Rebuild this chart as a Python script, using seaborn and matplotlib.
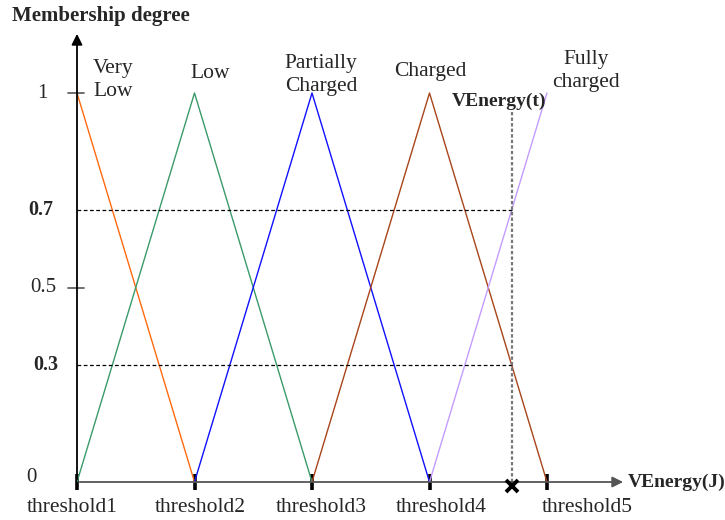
import matplotlib
matplotlib.use("Agg")
import matplotlib.pyplot as plt
import seaborn as sns
import pandas as pd

# ---- data ----
threshold_labels = ["threshold1", "threshold2", "threshold3", "threshold4", "threshold5"]
threshold_pos = [0, 1, 2, 3, 4]
set_names = ["Very\nLow", "Low", "Partially\nCharged", "Charged", "Fully\ncharged"]
very_low_x = [0, 1];      very_low_y = [1, 0]
low_x = [0, 1, 2];        low_y = [0, 1, 0]
partial_x = [1, 2, 3];    partial_y = [0, 1, 0]
charged_x = [2, 3, 4];    charged_y = [0, 1, 0]
fully_x = [3, 4];         fully_y = [0, 1]
venergy_t = 3.7
levels = [0.3, 0.7]
ytick_vals = [1, 0.7, 0.5, 0.3, 0]
ytick_text = ["1", "0.7", "0.5", "0.3", "0"]
ytick_bold = [False, True, False, True, False]

colors = ["#ff6a10", "#3a9a6a", "#1010ff", "#a8451a", "#c49cff"]

rows = []
for name, xs, ys in zip(set_names,
                        [very_low_x, low_x, partial_x, charged_x, fully_x],
                        [very_low_y, low_y, partial_y, charged_y, fully_y]):
    for x, y in zip(xs, ys):
        rows.append({"set": name, "x": x, "y": y})
df = pd.DataFrame(rows)

sns.set_style("white")
plt.rcParams["font.family"] = ["Liberation Serif", "DejaVu Serif"]

W, H = 725, 520
fig = plt.figure(figsize=(W / 100, H / 100), dpi=100)
x0, x1, ytop, ybot = 77, 620, 35, 482
ax = fig.add_axes([x0 / W, (H - ybot) / H, (x1 - x0) / W, (ybot - ytop) / H])
pxu_x, pxu_y = 117.5, 389.0
ax.set_xlim(0, (x1 - x0) / pxu_x)
ax.set_ylim(0, (ybot - ytop) / pxu_y)
for s in ax.spines.values():
    s.set_visible(False)

sns.lineplot(data=df, x="x", y="y", hue="set", palette=colors, ax=ax,
             legend=False, linewidth=1.0, estimator=None, sort=False)

# reference lines
for lv in levels:
    ax.plot([0, venergy_t], [lv, lv], color="black", linestyle=(0, (3, 2)), linewidth=0.9)
ax.plot([venergy_t, venergy_t], [0, 0.95], color="#777777", linestyle=(0, (1.5, 1)), linewidth=1.6)
ax.plot([venergy_t], [-0.01], marker="x", color="black", markersize=9, mew=2.8, clip_on=False, zorder=5)

# axes arrows
ax.annotate("", xy=(ax.get_xlim()[1] + 0.05, 0), xytext=(0, 0),
            arrowprops=dict(arrowstyle="-|>", color="#555555", lw=1.3, mutation_scale=16),
            annotation_clip=False)
ax.annotate("", xy=(0, ax.get_ylim()[1] + 0.01), xytext=(0, 0),
            arrowprops=dict(arrowstyle="-|>", color="black", lw=1.3, mutation_scale=16),
            annotation_clip=False)

# x ticks (marks only); labels placed below
ax.set_xticks(threshold_pos)
ax.set_xticklabels([])
ax.tick_params(axis="x", direction="inout", length=12, width=2.6, color="black", bottom=True)
ax.set_yticks([])
ax.set_xlabel("")
ax.set_ylabel("")
label_offsets_px = [-5, 6, 9, 12, 40]
for pos, lab, off in zip(threshold_pos, threshold_labels, label_offsets_px):
    px = x0 + pos * pxu_x + off
    fig.text(px / W, 1 - 507 / H, lab, ha="center", va="center", fontsize=15.5)

# y labels
ylab_x = [42, 41, 43, 46, 31]
for v, t, b, lx in zip(ytick_vals, ytick_text, ytick_bold, ylab_x):
    py = ybot - v * pxu_y
    if v == 0:
        py = 477
    fig.text(lx / W, 1 - py / H, t, ha="center", va="center", fontsize=15 if not b else 14.5,
             fontweight="bold" if b else "normal")
for v in [1, 0.5]:
    ax.plot([-9 / pxu_x, 7 / pxu_x], [v, v], color="#555555", lw=1.2, clip_on=False)

# set labels
label_pos = [(0.31, 1.033), (1.13, 1.051), (2.077, 1.046), (3.01, 1.054), (4.33, 1.057)]
for name, (lx, ly) in zip(set_names, label_pos):
    ax.text(lx, ly, name, ha="center", va="center", fontsize=15.5, linespacing=1.3)

ax.text((452 - x0) / pxu_x, (ybot - 101) / pxu_y, "VEnergy(t)", ha="left", va="center",
        fontsize=14, fontweight="bold")
fig.text(628 / W, 1 - 482 / H, "VEnergy(J)", ha="left", va="center", fontsize=14, fontweight="bold")
fig.text(12 / W, 1 - 16 / H, "Membership degree", ha="left", va="center", fontsize=15, fontweight="bold")

fig.savefig("out.png", dpi=100)
